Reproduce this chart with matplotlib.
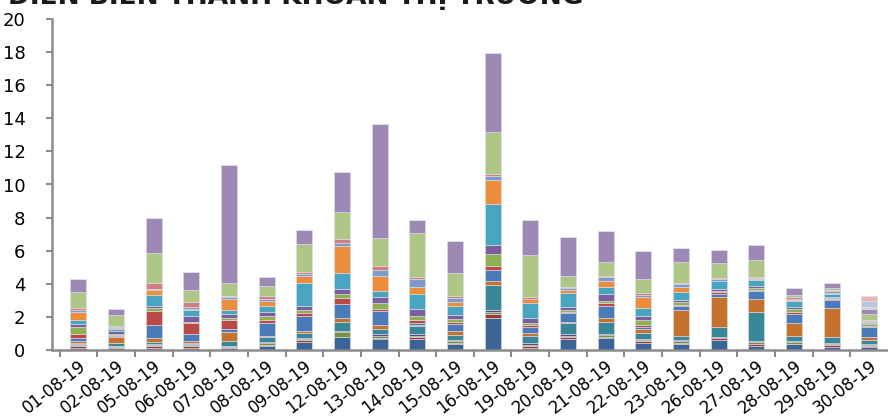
import numpy as np
import matplotlib
matplotlib.use('Agg')
import matplotlib.pyplot as plt

# ngay giao dich
dates = ['01-08-19', '02-08-19', '05-08-19', '06-08-19', '07-08-19', '08-08-19',
         '09-08-19', '12-08-19', '13-08-19', '14-08-19', '15-08-19', '16-08-19',
         '19-08-19', '20-08-19', '21-08-19', '22-08-19', '23-08-19', '26-08-19',
         '27-08-19', '28-08-19', '29-08-19', '30-08-19']

# cac chuoi du lieu, tu duoi len tren
dark_blue   = [.15, .14, .14, .14, .12, .22, .5, .77, .65, .65, .35, 1.95, .15, .65, .72, .4, .35, .62, .25, .36, .2, .2]
dark_red    = [.08, .05, .08, .08, .06, .1, .12, .04, .1, .14, .1, .2, .1, .12, .06, .13, .08, .1, .12, .02, .1, .06]
dark_green  = [.06, .04, .1, .06, .04, .1, .04, .26, .1, .08, .1, .15, .05, .1, .13, .06, .1, .03, .12, .08, .08, .06]
dark_purple = [.06, .04, .06, .06, .04, .08, .08, .1, .1, .08, .06, .1, .1, .1, .06, .06, .06, .03, .08, .08, .06, .06]
dark_teal   = [.1, .15, .12, .1, .28, .28, .29, .52, .32, .5, .3, 1.55, .45, .64, .72, .4, .25, .6, 1.72, .29, .37, .24]
dark_orange = [.1, .37, .24, .1, .53, .07, .12, .22, .22, .08, .22, .2, .2, .1, .26, .2, 1.57, 1.85, .78, .8, 1.71, .16]
blue        = [.2, .05, .75, .41, .2, .76, .88, .89, .89, .12, .46, .66, .36, .51, .73, .12, .24, .15, .47, .56, .5, .6]
red         = [.2, .05, .87, .66, .56, .22, .21, .34, .12, .14, .08, .25, .1, .06, .14, .14, .06, .1, .1, .12, .06, .06]
green       = [.46, .05, .18, .1, .1, .22, .16, .24, .32, .24, .22, .76, .14, .14, .14, .3, .2, .1, .1, .15, .06, .12]
purple      = [.18, .22, .14, .34, .24, .23, .28, .3, .36, .47, .24, .55, .3, .2, .44, .24, .14, .1, .1, .12, .06, .06]
aqua        = [.22, .1, .62, .37, .25, .4, 1.37, 1.0, .4, .88, .53, 2.47, .87, .8, .43, .47, .47, .46, .36, .4, .18, .06]
orange      = [.5, .05, .31, .08, .64, .28, .42, 1.61, .91, .43, .24, 1.41, .24, .19, .34, .66, .3, .02, .1, .02, .06, .1]
light_blue  = [.1, .05, .1, .12, .12, .1, .12, .18, .34, .46, .26, .24, .04, .12, .22, .14, .14, .1, .04, .1, .1, 0]
pink        = [.1, .1, .36, .3, .1, .22, .1, .22, .25, .12, .1, .12, .1, .1, .1, .1, .1, .12, .1, .08, .06, .06]
light_green = [1.02, .66, 1.77, .68, .79, .57, 1.69, 1.67, 1.67, 2.66, 1.41, 2.56, 2.55, .66, .81, .87, 1.23, .87, 1.01, .14, .15, .36]
lilac       = [.77, .38, 2.15, 1.13, 7.11, .56, .89, 2.38, 6.91, .78, 1.9, 4.8, 2.11, 2.36, 1.89, 1.69, .9, .78, .9, .4, .3, .25]
pale_aqua   = [0] * 21 + [.06]
pale_orange = [0] * 21 + [.1]
pale_blue   = [0] * 21 + [.34]
pale_pink   = [0] * 21 + [.34]

series = [dark_blue, dark_red, dark_green, dark_purple, dark_teal, dark_orange,
          blue, red, green, purple, aqua, orange,
          light_blue, pink, light_green, lilac,
          pale_aqua, pale_orange, pale_blue, pale_pink]
colors = ['#3c6597', '#9c3a38', '#76923c', '#5f4a7b', '#3a8799', '#c5722f',
          '#4a7ab8', '#b94a48', '#8fb050', '#7b5e9c', '#47a5bf', '#ec8d3e',
          '#7c9bcc', '#d07f7e', '#aec787', '#9d88b6',
          '#93cddd', '#f9b883', '#b5c7e1', '#e5b6b6']

fig = plt.figure(figsize=(8.88, 4.19), dpi=100)
ax = fig.add_axes([52/888, 69/419, 835/888, 331/419])

x = np.arange(len(dates))
bottom = np.zeros(len(dates))
for vals, c in zip(series, colors):
    vals = np.array(vals)
    ax.bar(x, vals, 0.425, bottom=bottom, color=c, edgecolor='#dedfe9', linewidth=0.4)
    bottom += vals

ax.set_xlim(-0.7, 21.47)
ax.set_ylim(0, 20)
ax.set_yticks(range(0, 21, 2))
ax.set_xticks(x)
ax.set_xticklabels(dates, rotation=38, ha='right', rotation_mode='anchor', fontsize=12)
ax.set_xticks(np.arange(-0.5, 21, 1), minor=True)
ax.tick_params(axis='x', which='major', length=0, pad=5)
ax.tick_params(axis='x', which='minor', length=5, width=1.5, color='#8c8c8c')
ax.tick_params(axis='y', length=4, width=1.5, color='#8c8c8c', labelsize=13, pad=15)
for s in ['top', 'right']:
    ax.spines[s].set_visible(False)
for s in ['left', 'bottom']:
    ax.spines[s].set_color('#8c8c8c')
    ax.spines[s].set_linewidth(1.8)

fig.text(8/888, 1 - 4/419, 'DIỄN BIẾN THANH KHOẢN THỊ TRƯỜNG', fontsize=19,
         fontweight='bold', color='#1a1a1a', va='baseline')

plt.savefig('out.png', dpi=100)
